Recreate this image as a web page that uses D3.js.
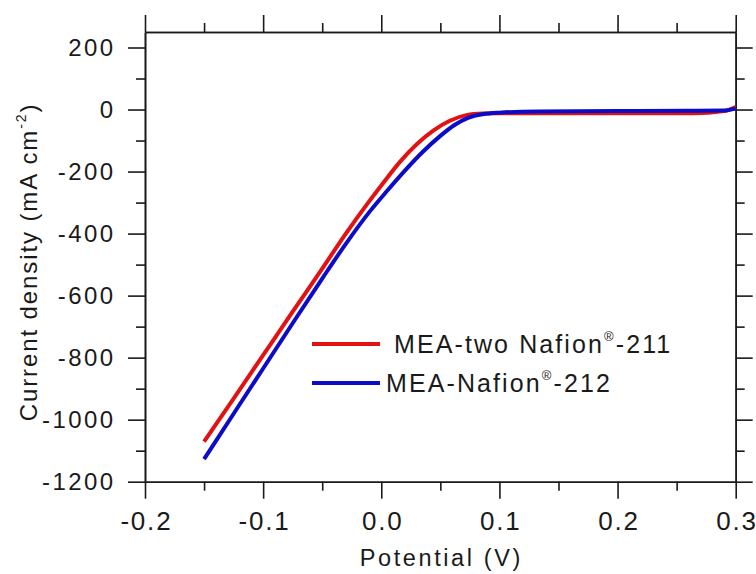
<!DOCTYPE html>
<html>
<head>
<meta charset="utf-8">
<script src="https://cdn.jsdelivr.net/npm/d3@7/dist/d3.min.js"></script>
<style>
  html, body { margin: 0; padding: 0; background: #fff; }
  svg { display: block; font-family: "Liberation Sans", Arial, sans-serif; }
</style>
</head>
<body>
<svg id="chart" width="756" height="574"></svg>
<script>
// Polarization curves: current density vs potential
const potentialRed = [-0.150, -0.125, -0.100, -0.075, -0.050, -0.030, -0.012, 0.000, 0.016, 0.030, 0.044, 0.058, 0.072, 0.086, 0.100, 0.130, 0.200, 0.264, 0.290, 0.300];
const currentRed   = [-1071, -932, -792, -652, -513, -400, -305, -245, -168, -112, -68, -36, -18, -13, -12, -12, -12, -12, -5, 8];

const potentialBlue = [-0.150, -0.125, -0.100, -0.075, -0.050, -0.030, -0.010, 0.005, 0.020, 0.035, 0.050, 0.062, 0.074, 0.086, 0.100, 0.132, 0.200, 0.260, 0.290, 0.300];
const currentBlue   = [-1127, -981, -835, -689, -545, -433, -330, -262, -197, -137, -85, -50, -26, -15, -10, -6, -5, -4, -3, 3];

const seriesNames = ["MEA-two Nafion", "MEA-Nafion"];
const seriesSuffix = ["-211", "-212"];
const seriesColors = ["#e31212", "#0c0cc8"];

const xMajor = [-0.2, -0.1, 0.0, 0.1, 0.2, 0.3];
const xMinor = [-0.15, -0.05, 0.05, 0.15, 0.25];
const yMajor = [-1200, -1000, -800, -600, -400, -200, 0, 200];
const yMinor = [-1100, -900, -700, -500, -300, -100, 100];

const svg = d3.select("#chart");
const L = 145, R = 735.7, T = 32, B = 481.7;

const x = d3.scaleLinear().domain([-0.2, 0.3]).range([L, R]);
const y = d3.scaleLinear().domain([-1200, 250]).range([B, T]);

const axisColor = "#1a1a1a";
const major = 17, minor = 9;
// plain hyphen for negative numbers
const hyphen = f => d => f(d).replace("\u2212", "-");

function styleAxis(g) {
  g.selectAll("path.domain").attr("stroke", axisColor).attr("stroke-width", 1.6);
  g.selectAll(".tick line").attr("stroke", axisColor).attr("stroke-width", 1.6);
}

// Left axis with labels
const lsY = 2.4;
const gl = svg.append("g").attr("transform", `translate(${L},0)`)
  .call(d3.axisLeft(y).tickValues(yMajor).tickSize(major).tickSizeOuter(0).tickPadding(15 - lsY)
    .tickFormat(hyphen(d3.format("d"))));
gl.selectAll("text").attr("font-size", 24).attr("letter-spacing", lsY).attr("fill", "#1a1a1a")
  .attr("font-family", "Liberation Sans, Arial, sans-serif");
styleAxis(gl);
const glm = svg.append("g").attr("transform", `translate(${L},0)`)
  .call(d3.axisLeft(y).tickValues(yMinor).tickSize(minor).tickSizeOuter(0).tickFormat(""));
styleAxis(glm);

// Right axis (ticks only)
const gr = svg.append("g").attr("transform", `translate(${R},0)`)
  .call(d3.axisRight(y).tickValues(yMajor).tickSize(major).tickSizeOuter(0).tickFormat(""));
styleAxis(gr);
const grm = svg.append("g").attr("transform", `translate(${R},0)`)
  .call(d3.axisRight(y).tickValues(yMinor).tickSize(minor).tickSizeOuter(0).tickFormat(""));
styleAxis(grm);

// Bottom axis with labels
const lsX = 1.8;
const gb = svg.append("g").attr("transform", `translate(0,${B})`)
  .call(d3.axisBottom(x).tickValues(xMajor).tickSize(major).tickSizeOuter(0).tickPadding(13)
    .tickFormat(hyphen(d3.format(".1f"))));
gb.selectAll("text").attr("font-size", 26).attr("letter-spacing", lsX).attr("dx", lsX / 2)
  .attr("fill", "#1a1a1a").attr("font-family", "Liberation Sans, Arial, sans-serif");
styleAxis(gb);
const gbm = svg.append("g").attr("transform", `translate(0,${B})`)
  .call(d3.axisBottom(x).tickValues(xMinor).tickSize(minor).tickSizeOuter(0).tickFormat(""));
styleAxis(gbm);

// Top axis (ticks only)
const gt = svg.append("g").attr("transform", `translate(0,${T})`)
  .call(d3.axisTop(x).tickValues(xMajor).tickSize(major).tickSizeOuter(0).tickFormat(""));
styleAxis(gt);
const gtm = svg.append("g").attr("transform", `translate(0,${T})`)
  .call(d3.axisTop(x).tickValues(xMinor).tickSize(minor).tickSizeOuter(0).tickFormat(""));
styleAxis(gtm);

// Curves
const line = d3.line().x(d => x(d[0])).y(d => y(d[1])).curve(d3.curveMonotoneX);
const redData = potentialRed.map((v, i) => [v, currentRed[i]]);
const blueData = potentialBlue.map((v, i) => [v, currentBlue[i]]);

svg.append("path").datum(redData).attr("d", line)
  .attr("fill", "none").attr("stroke", seriesColors[0]).attr("stroke-width", 4)
  .attr("stroke-linejoin", "round").attr("stroke-linecap", "butt");
svg.append("path").datum(blueData).attr("d", line)
  .attr("fill", "none").attr("stroke", seriesColors[1]).attr("stroke-width", 4)
  .attr("stroke-linejoin", "round").attr("stroke-linecap", "butt");

// Legend
const legendRows = [
  { ly: 344, tx: 394, ty: 353 },
  { ly: 383, tx: 386, ty: 392 }
];
legendRows.forEach((r, i) => {
  svg.append("line").attr("x1", 312).attr("x2", 380).attr("y1", r.ly).attr("y2", r.ly)
    .attr("stroke", seriesColors[i]).attr("stroke-width", 4);
  const t = svg.append("text").attr("x", r.tx).attr("y", r.ty)
    .attr("font-size", 25).attr("letter-spacing", 2.1).attr("fill", "#1a1a1a");
  t.append("tspan").text(seriesNames[i]);
  t.append("tspan").attr("font-size", 13).attr("dy", -12).text("®");
  t.append("tspan").attr("dy", 12).text(seriesSuffix[i]);
});

// Axis titles
svg.append("text").attr("x", 440 + 1.3).attr("y", 566).attr("text-anchor", "middle")
  .attr("font-size", 23.5).attr("letter-spacing", 2.6).attr("fill", "#1a1a1a")
  .text("Potential (V)");

const yt = svg.append("text").attr("transform", "translate(37,262) rotate(-90)")
  .attr("text-anchor", "middle").attr("font-size", 24).attr("letter-spacing", 1.9)
  .attr("fill", "#1a1a1a");
yt.append("tspan").text("Current density (mA cm");
yt.append("tspan").attr("font-size", 14).attr("dy", -11).text("-2");
yt.append("tspan").attr("dy", 11).text(")");
</script>
</body>
</html>
